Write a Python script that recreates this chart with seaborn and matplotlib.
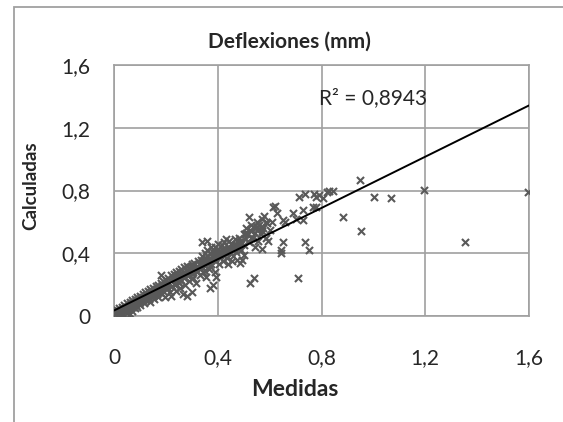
import numpy as np
import pandas as pd
import matplotlib.pyplot as plt
import seaborn as sns
from matplotlib.patches import Rectangle

# Datos (deflexiones en mm)
medidas = [
    0.005, 0.01, 0.01, 0.015, 0.02, 0.02, 0.025, 0.03, 0.03, 0.035, 0.035, 0.04, 0.04, 0.045,
    0.05, 0.05, 0.05, 0.055, 0.06, 0.06, 0.06, 0.065, 0.07, 0.07, 0.07, 0.075, 0.08, 0.08,
    0.08, 0.085, 0.09, 0.09, 0.09, 0.095, 0.1, 0.1, 0.1, 0.1,
    0.105, 0.11, 0.11, 0.115, 0.12, 0.12, 0.125, 0.13, 0.13, 0.135, 0.14, 0.14, 0.14, 0.145,
    0.15, 0.15, 0.15, 0.155, 0.16, 0.16, 0.165, 0.17, 0.17, 0.17, 0.175, 0.18, 0.18, 0.18,
    0.185, 0.19, 0.19, 0.19, 0.195, 0.2, 0.2, 0.2,
    0.205, 0.21, 0.21, 0.215, 0.22, 0.22, 0.22, 0.225, 0.23, 0.23, 0.235, 0.24, 0.24, 0.24,
    0.245, 0.25, 0.25, 0.25, 0.255, 0.26, 0.26, 0.26, 0.265, 0.27, 0.27, 0.27, 0.275, 0.28,
    0.28, 0.28, 0.285, 0.29, 0.29, 0.295, 0.3, 0.3, 0.3, 0.3,
    0.305, 0.31, 0.31, 0.315, 0.32, 0.32, 0.325, 0.33, 0.33, 0.335, 0.335, 0.34, 0.34, 0.34,
    0.345, 0.35, 0.35, 0.35, 0.355, 0.355, 0.36, 0.36, 0.36, 0.36, 0.365, 0.37, 0.37, 0.37,
    0.375, 0.375, 0.38, 0.38, 0.38, 0.385, 0.39, 0.39, 0.39, 0.395, 0.395, 0.4, 0.4, 0.4,
    0.405, 0.41, 0.41, 0.415, 0.42, 0.42,
    0.425, 0.43, 0.43, 0.435, 0.44, 0.44, 0.445, 0.45, 0.45, 0.455, 0.46, 0.46, 0.465, 0.47,
    0.47, 0.475, 0.48, 0.48, 0.485, 0.49, 0.49, 0.495, 0.5, 0.5, 0.5,
    0.505, 0.51, 0.515, 0.52, 0.52, 0.525, 0.53, 0.53, 0.535, 0.54, 0.54, 0.545, 0.55, 0.55,
    0.555, 0.56, 0.565, 0.57, 0.572, 0.575, 0.58, 0.585, 0.59, 0.595, 0.6,
    0.61, 0.614, 0.62, 0.63, 0.643, 0.643, 0.653, 0.653, 0.66, 0.689, 0.7, 0.711, 0.714, 0.727,
    0.73, 0.736, 0.736, 0.753, 0.766, 0.77, 0.78, 0.78, 0.79, 0.807, 0.82, 0.83, 0.845,
    0.884, 0.948, 0.951, 1.004, 1.068, 1.196, 1.353, 1.598,
    # nube densa adicional
    0.015, 0.025, 0.045, 0.065, 0.085, 0.105, 0.125, 0.145, 0.165, 0.185, 0.205, 0.225,
    0.245, 0.265, 0.285, 0.305, 0.325, 0.345, 0.365, 0.385, 0.405, 0.425, 0.445, 0.465,
    0.485, 0.505, 0.525, 0.545, 0.565, 0.585,
    0.12, 0.16, 0.2, 0.24, 0.28, 0.32, 0.34, 0.36, 0.38, 0.4, 0.42, 0.44, 0.46, 0.48,
    0.35, 0.37, 0.39, 0.41, 0.43, 0.45, 0.47, 0.49, 0.51, 0.53, 0.55, 0.57,
]
calculadas = [
    0.01, 0.02, 0.04, 0.005, 0.03, 0.05, 0.02, 0.04, 0.06, 0.01, 0.05, 0.03, 0.07, 0.05,
    0.02, 0.06, 0.08, 0.04, 0.07, 0.09, 0.01, 0.05, 0.08, 0.1, 0.03, 0.06, 0.09, 0.11,
    0.05, 0.07, 0.1, 0.12, 0.06, 0.08, 0.11, 0.13, 0.07, 0.09,
    0.12, 0.1, 0.14, 0.08, 0.12, 0.15, 0.1, 0.13, 0.16, 0.11, 0.14, 0.17, 0.09, 0.12,
    0.15, 0.18, 0.13, 0.11, 0.16, 0.19, 0.14, 0.17, 0.2, 0.12, 0.15, 0.18, 0.21, 0.26,
    0.14, 0.19, 0.22, 0.16, 0.12, 0.2, 0.23, 0.17,
    0.21, 0.24, 0.18, 0.15, 0.22, 0.26, 0.13, 0.19, 0.24, 0.27, 0.2, 0.25, 0.28, 0.16,
    0.22, 0.26, 0.29, 0.21, 0.18, 0.27, 0.3, 0.23, 0.14, 0.28, 0.31, 0.24, 0.2, 0.29,
    0.32, 0.13, 0.26, 0.3, 0.22, 0.32, 0.31, 0.27, 0.15, 0.33,
    0.24, 0.3, 0.34, 0.21, 0.32, 0.28, 0.35, 0.3, 0.26, 0.36, 0.33, 0.38, 0.31, 0.47,
    0.28, 0.4, 0.35, 0.32, 0.37, 0.25, 0.42, 0.38, 0.34, 0.48, 0.3, 0.4, 0.36, 0.18,
    0.44, 0.33, 0.41, 0.38, 0.2, 0.36, 0.44, 0.4, 0.28, 0.35, 0.25, 0.43, 0.38, 0.46,
    0.33, 0.41, 0.37, 0.45, 0.39, 0.35,
    0.47, 0.42, 0.49, 0.37, 0.44, 0.33, 0.48, 0.4, 0.46, 0.35, 0.43, 0.38, 0.49, 0.45,
    0.41, 0.36, 0.5, 0.44, 0.34, 0.47, 0.42, 0.36, 0.52, 0.45, 0.39,
    0.49, 0.56, 0.52, 0.63, 0.47, 0.21, 0.58, 0.54, 0.5, 0.57, 0.24, 0.44, 0.6, 0.55,
    0.48, 0.58, 0.52, 0.62, 0.43, 0.56, 0.64, 0.5, 0.59, 0.48, 0.55,
    0.6, 0.697, 0.7, 0.654, 0.421, 0.4, 0.474, 0.612, 0.6, 0.654, 0.62, 0.24, 0.757, 0.676,
    0.612, 0.474, 0.778, 0.421, 0.697, 0.78, 0.757, 0.697, 0.77, 0.75, 0.79, 0.795, 0.8,
    0.633, 0.867, 0.542, 0.757, 0.752, 0.803, 0.474, 0.788,
    # nube densa adicional
    0.03, 0.035, 0.06, 0.075, 0.095, 0.115, 0.135, 0.155, 0.175, 0.195, 0.215, 0.235,
    0.255, 0.265, 0.29, 0.3, 0.315, 0.34, 0.355, 0.375, 0.39, 0.41, 0.43, 0.45,
    0.47, 0.52, 0.55, 0.53, 0.57, 0.6,
    0.11, 0.15, 0.19, 0.23, 0.26, 0.29, 0.34, 0.36, 0.39, 0.41, 0.43, 0.42, 0.45, 0.47,
    0.29, 0.32, 0.37, 0.39, 0.4, 0.43, 0.44, 0.46, 0.53, 0.5, 0.57, 0.54,
]

# Línea de tendencia (lineal) y R² según el gráfico
tendencia_pendiente = 0.817
tendencia_ordenada = 0.035
r2_texto = "R² = 0,8943"

ticks = [0, 0.4, 0.8, 1.2, 1.6]
etiquetas = ["0", "0,4", "0,8", "1,2", "1,6"]

df = pd.DataFrame({"Medidas": medidas, "Calculadas": calculadas})

sns.set_style("white")
plt.rcParams["font.family"] = ["Lato", "DejaVu Sans"]

gris = "#a0a0a0"
fig = plt.figure(figsize=(5.63, 4.22), dpi=100)
ax = fig.add_axes([114 / 563, 1 - 316 / 422, 415 / 563, 251 / 422])

# marco exterior del gráfico
fig.patches.append(Rectangle((14 / 563, -0.1), 1.2, 1.1 - 7.5 / 422, transform=fig.transFigure,
                             fill=False, edgecolor=gris, linewidth=1.3))

sns.scatterplot(data=df, x="Medidas", y="Calculadas", marker="x", color="#595959",
                s=26, linewidth=1.5, ax=ax, zorder=3, legend=False)

xs = np.array([0, 1.6])
ax.plot(xs, tendencia_pendiente * xs + tendencia_ordenada, color="black", lw=1.4, zorder=4)

ax.set_xlim(0, 1.6)
ax.set_ylim(0, 1.6)
ax.set_xticks(ticks)
ax.set_yticks(ticks)
ax.set_xticklabels(etiquetas)
ax.set_yticklabels(etiquetas)
ax.tick_params(axis="both", labelsize=15, length=6, width=1.2, color=gris, direction="out")
ax.tick_params(axis="x", pad=17)
ax.tick_params(axis="y", pad=11)
ax.grid(True, color=gris, lw=1.2)
for s in ax.spines.values():
    s.set_color(gris)
    s.set_linewidth(1.2)
ax.set_xlabel("")
ax.set_ylabel("")

fig.text(289 / 563, 1 - 42 / 422, "Deflexiones (mm)", ha="center", va="center",
         fontsize=15, fontweight="bold")
fig.text(295 / 563, 1 - 390 / 422, "Medidas", ha="center", va="center",
         fontsize=16.5, fontweight="bold")
fig.text(30.5 / 563, 1 - 186 / 422, "Calculadas", ha="center", va="center",
         fontsize=13.5, fontweight="bold", rotation=90)
ax.text(0.79, 1.39, r2_texto, fontsize=15, va="center", ha="left")

fig.savefig("out.png", dpi=100)
